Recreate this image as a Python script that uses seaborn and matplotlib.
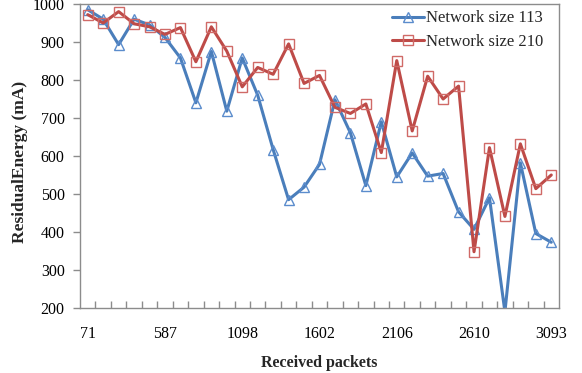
import numpy as np
import pandas as pd
import matplotlib
matplotlib.use("Agg")
import matplotlib.pyplot as plt
import seaborn as sns

# Residual energy readings per received-packet step
series_names = ["Network size 113", "Network size 210"]
energy_113 = [985, 960, 893, 960, 945, 912, 858, 740, 875, 718, 858,
              760, 617, 485, 518, 578, 748, 661, 522, 690, 545,
              608, 547, 554, 453, 407, 490, 190, 582, 396, 373]
energy_210 = [972, 950, 980, 948, 940, 920, 938, 848, 940, 876, 782,
              833, 815, 895, 791, 812, 728, 712, 737, 609, 851,
              666, 810, 750, 784, 348, 622, 441, 632, 514, 550]
tick_labels = ["71", "587", "1098", "1602", "2106", "2610", "3093"]
label_step = 5

idx = np.arange(len(energy_113))
df = pd.DataFrame({
    "step": np.concatenate([idx, idx]),
    "energy": energy_113 + energy_210,
    "series": [series_names[0]] * len(idx) + [series_names[1]] * len(idx),
})

sns.set_theme(style="white")
plt.rcParams["font.family"] = ["Liberation Serif", "DejaVu Serif"]

fig = plt.figure(figsize=(5.82, 3.73), dpi=100)
ax = fig.add_axes([80 / 582, 1 - 308 / 373, (559 - 80) / 582, (308 - 4) / 373])

blue = "#4a7ebb"
red = "#be4b48"
styles = {
    series_names[0]: dict(color=blue, marker="^", mec="#5b8ccc"),
    series_names[1]: dict(color=red, marker="s", mec="#d06a67"),
}
for name in series_names:
    st = styles[name]
    sns.lineplot(data=df[df["series"] == name], x="step", y="energy", ax=ax,
                 color=st["color"], linewidth=2.2, marker=st["marker"],
                 markersize=7.2, markerfacecolor="none", markeredgecolor=st["mec"],
                 markeredgewidth=1.0, label=name)

ax.set_xlim(-0.5, len(idx) - 0.5)
ax.set_ylim(200, 1000)
ax.set_yticks(np.arange(200, 1001, 100))
ax.set_xticks(idx[::label_step])
ax.set_xticklabels(tick_labels)
ax.set_xticks(np.arange(0.5, len(idx) - 1, 1), minor=True)

for side in ["left", "bottom", "top", "right"]:
    ax.spines[side].set_color("#8c8c8c")
    ax.spines[side].set_linewidth(1.0)

ax.tick_params(axis="x", which="major", length=0, pad=13, labelsize=11.5, colors="black")
ax.tick_params(axis="x", which="minor", direction="in", length=5, width=1, color="#8c8c8c", bottom=True)
ax.tick_params(axis="y", which="major", direction="out", length=5, width=1, color="#8c8c8c",
               left=True, pad=6, labelsize=11.5, labelcolor="black")

ax.set_xlabel("Received packets", fontsize=11.5, fontweight="bold")
ax.set_ylabel("ResidualEnergy (mA)", fontsize=12.5, fontweight="bold")
ax.xaxis.set_label_coords(0.5, -0.155)
ax.yaxis.set_label_coords(-0.108, 0.48)

leg = ax.legend(loc="upper right", frameon=False, fontsize=12, handlelength=1.95,
                handletextpad=0.1, borderaxespad=0.2, labelspacing=0.45,
                bbox_to_anchor=(0.988, 1.012))

fig.savefig("out.png", dpi=100)
